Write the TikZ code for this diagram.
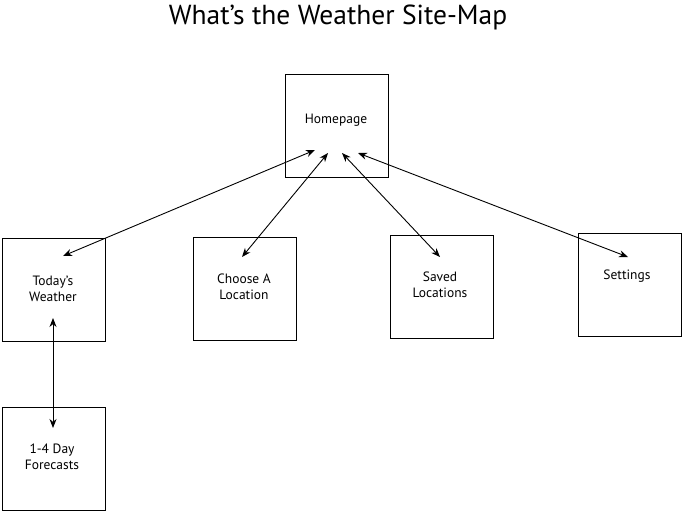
\documentclass[tikz,border=0pt]{standalone}
\usepackage{fontspec}
\setmainfont{PT Sans}
\usetikzlibrary{arrows.meta}
\begin{document}
\begin{tikzpicture}[x=1pt,y=-1pt,
  page/.style={draw=black,line width=1pt,minimum width=103pt,minimum height=103pt,
    inner sep=0pt},
  label/.style={align=center,inner sep=0pt,font=\fontsize{13.5}{16}\selectfont},
  link/.style={line width=0.9pt,{Stealth[length=9pt,width=7pt]}-{Stealth[length=9pt,width=7pt]}}]
\useasboundingbox (0,0) rectangle (682,511);
% title
\node (title) at (338,17) {\fontsize{27.5}{30}\selectfont What’s the Weather Site-Map};
% pages
\node[page] (home)  at (337,125.5) {};
\node[label] (hometxt) at (336,120) {Homepage};
\node[page] (today) at (53.5,289.5) {};
\node[label] (todaytxt) at (53,289) {Today’s\\Weather};
\node[page] (choose) at (244.5,288.5) {};
\node[label] (choosetxt) at (244,287) {Choose A\\Location};
\node[page] (saved) at (442,286.5) {};
\node[label] (savedtxt) at (440,285) {Saved\\Locations};
\node[page] (settings) at (629.5,285) {};
\node[label] (settingstxt) at (627,276) {Settings};
\node[page] (forecast) at (53.5,458.5) {};
\node[label] (forecasttxt) at (52,457) {1-4 Day\\Forecasts};
% arrow ends
\coordinate (h1) at (315,150);
\coordinate (h2) at (328,153);
\coordinate (h3) at (342,153);
\coordinate (h4) at (358,153);
\coordinate (t1) at (63,256);
\coordinate (c1) at (242,257);
\coordinate (s1) at (440,257);
\coordinate (g1) at (628,257);
\coordinate (t2) at (53,318);
\coordinate (f1) at (53,428);
% links
\draw[link] (h1) -- (t1);
\draw[link] (h2) -- (c1);
\draw[link] (h3) -- (s1);
\draw[link] (h4) -- (g1);
\draw[link] (t2) -- (f1);
\end{tikzpicture}
\end{document}
